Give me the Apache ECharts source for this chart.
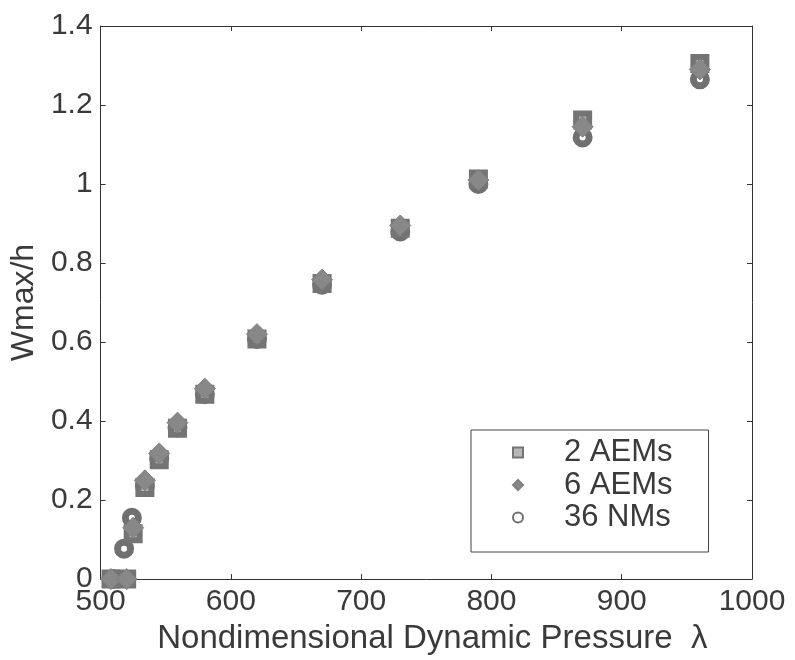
<!DOCTYPE html>
<html>
<head>
<meta charset="utf-8">
<script src="https://cdn.jsdelivr.net/npm/echarts@6/dist/echarts.min.js"></script>
<style>html,body{margin:0;padding:0;background:#fff;}#c{width:795px;height:660px;}</style>
</head>
<body>
<div id="c"></div>
<script>
const seriesNames = ['2 AEMs', '6 AEMs', '36 NMs'];
const lambda2AEM = [508, 520, 525, 534, 545, 559, 580, 620, 670, 730, 790, 870, 960];
const w2AEM      = [0, 0, 0.115, 0.232, 0.302, 0.382, 0.468, 0.608, 0.748, 0.888, 1.013, 1.162, 1.305];
const lambda6AEM = [508, 520, 525, 534, 545, 559, 580, 620, 670, 730, 790, 870, 960];
const w6AEM      = [0, 0, 0.13, 0.25, 0.318, 0.396, 0.482, 0.62, 0.758, 0.895, 1.01, 1.145, 1.29];
const lambda36NM = [510, 518, 524, 534, 545, 559, 580, 620, 670, 730, 790, 870, 960];
const w36NM      = [0, 0.077, 0.155, 0.236, 0.305, 0.384, 0.468, 0.608, 0.745, 0.88, 1.0, 1.118, 1.265];
const xTicks = [500, 600, 700, 800, 900, 1000];
const yTicks = [0, 0.2, 0.4, 0.6, 0.8, 1, 1.2, 1.4];

const zip = (a, b) => a.map((v, i) => [v, b[i]]);
const FONT = 'Liberation Sans, Arial, sans-serif';
const axisCol = '#333';
const textCol = '#3a3a3a';

const chart = echarts.init(document.getElementById('c'));
const baseX = {
  type: 'value', min: 500, max: 1000, interval: 100,
  axisLine: { show: true, onZero: false, lineStyle: { color: axisCol, width: 1 } },
  axisTick: { show: true, inside: true, length: 5, lineStyle: { color: axisCol } },
  splitLine: { show: false }
};
const baseY = {
  type: 'value', min: 0, max: 1.4, interval: 0.2,
  axisLine: { show: true, onZero: false, lineStyle: { color: axisCol, width: 1 } },
  axisTick: { show: true, inside: true, length: 5, lineStyle: { color: axisCol } },
  splitLine: { show: false }
};

chart.setOption({
  backgroundColor: '#fff',
  animation: false,
  grid: { left: 100, top: 26, right: 43, bottom: 77, containLabel: false },
  xAxis: [
    Object.assign({}, baseX, {
      position: 'bottom',
      name: 'Nondimensional Dynamic Pressure  λ',
      nameLocation: 'middle', nameGap: 38,
      nameTextStyle: { fontFamily: FONT, fontSize: 33, color: textCol, padding: [0, 0, 0, 12] },
      axisLabel: { fontFamily: FONT, fontSize: 30, color: textCol, margin: 8,
        formatter: v => xTicks.includes(v) ? String(v) : '' }
    }),
    Object.assign({}, baseX, { position: 'top', axisLabel: { show: false } })
  ],
  yAxis: [
    Object.assign({}, baseY, {
      position: 'left',
      name: 'Wmax/h',
      nameLocation: 'middle', nameGap: 58,
      nameTextStyle: { fontFamily: FONT, fontSize: 32, color: textCol },
      axisLabel: { fontFamily: FONT, fontSize: 30, color: textCol, margin: 8,
        formatter: v => { const t = yTicks.find(k => Math.abs(k - v) < 1e-9); return t === undefined ? '' : String(t); } }
    }),
    Object.assign({}, baseY, { position: 'right', axisLabel: { show: false } })
  ],
  legend: {
    orient: 'vertical', left: 471, top: 430,
    padding: [7, 36, 19, 41],
    itemGap: 1.5, itemWidth: 10, itemHeight: 10,
    borderColor: '#444', borderWidth: 1,
    textStyle: { fontFamily: FONT, fontSize: 31, color: textCol, padding: [0, 0, 0, 36] },
    data: seriesNames
  },
  series: [
    {
      name: seriesNames[2], type: 'scatter', symbol: 'circle', symbolSize: 13,
      itemStyle: { color: '#ffffff', borderColor: '#707070', borderWidth: 7, opacity: 1 },
      data: zip(lambda36NM, w36NM), z: 2
    },
    {
      name: seriesNames[0], type: 'scatter', symbol: 'rect', symbolSize: 13,
      itemStyle: { color: '#b8b8b8', borderColor: '#747474', borderWidth: 6, opacity: 1 },
      data: zip(lambda2AEM, w2AEM), z: 3
    },
    {
      name: seriesNames[1], type: 'scatter', symbol: 'diamond', symbolSize: 21,
      itemStyle: { color: '#888888', borderColor: '#808080', borderWidth: 1, opacity: 1 },
      data: zip(lambda6AEM, w6AEM), z: 4
    }
  ]
});
</script>
</body>
</html>
